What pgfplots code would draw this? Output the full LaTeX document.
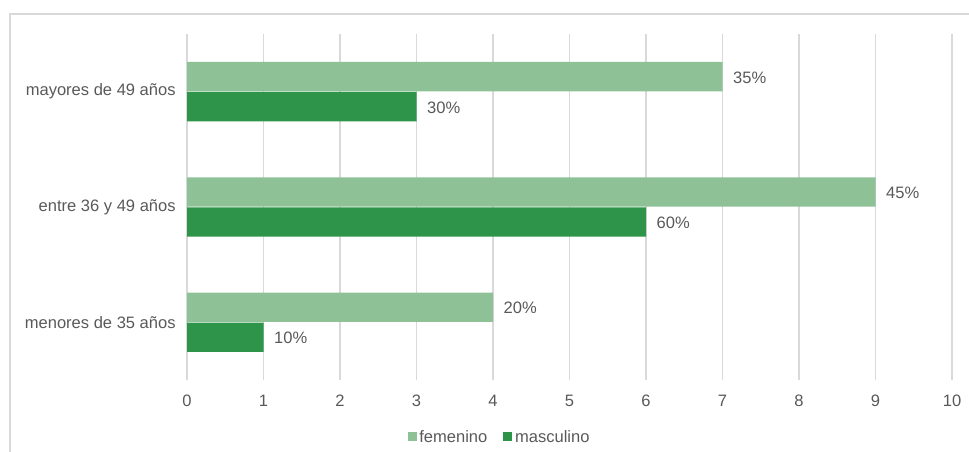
\documentclass[border=0pt]{standalone}
\usepackage{fontspec}
\setmainfont{Liberation Sans}
\usepackage{pgfplots}
\usepackage{pgfplotstable}
\pgfplotsset{compat=1.18}
\definecolor{fem}{RGB}{142,193,150}
\definecolor{mas}{RGB}{46,148,74}
\definecolor{txt}{RGB}{89,89,89}
\definecolor{grd}{RGB}{217,217,217}
\pgfplotstableread{
y fem mas fl ml
0 4 1 20 10
1 9 6 45 60
2 7 3 35 30
}\counts
\begin{document}
\begin{tikzpicture}
\useasboundingbox (0pt,0pt) rectangle (726.75pt,339pt);
\draw[grd, line width=1.2pt] (7.5pt,0pt) -- (7.5pt,328.5pt) -- (726.75pt,328.5pt);
\begin{axis}[
  at={(140.25pt,54pt)}, anchor=south west,
  scale only axis, width=573.75pt, height=259.5pt,
  xmin=0, xmax=10, ymin=-0.5, ymax=2.5,
  xbar, bar width=22pt,
  axis line style={draw=none},
  major tick length=0pt,
  xtick={0,1,...,10},
  ytick={0,1,2},
  yticklabels={menores de 35 años, entre 36 y 49 años, mayores de 49 años},
  xmajorgrids, grid style={grd, line width=0.9pt},
  /pgf/number format/assume math mode=true,
  tick label style={font=\fontsize{12.4pt}{14pt}\selectfont, text=txt},
  xticklabel style={yshift=-7.5pt},
  yticklabel style={xshift=-5pt},
  point meta=explicit,
  nodes near coords={\pgfmathprintnumber{\pgfplotspointmeta}\%},
  nodes near coords style={font=\fontsize{12.4pt}{14pt}\selectfont, text=txt, anchor=west, xshift=4.5pt, yshift=-0.6pt},
  legend style={at={(0.409,-0.165)}, anchor=center, draw=none, fill=none,
    legend columns=2, font=\fontsize{12.4pt}{14pt}\selectfont, text=txt,
    /tikz/every even column/.append style={column sep=10pt}},
  legend image code/.code={\fill[#1] (0pt,-3.2pt) rectangle (6.8pt,3.6pt);},
]
\addplot[fill=fem, draw=none, bar shift=11.25pt] table[x=fem, y=y, meta=fl] {\counts};
\addlegendentry{femenino}
\addplot[fill=mas, draw=none, bar shift=-11.25pt] table[x=mas, y=y, meta=ml] {\counts};
\addlegendentry{masculino}
\end{axis}
\end{tikzpicture}
\end{document}
